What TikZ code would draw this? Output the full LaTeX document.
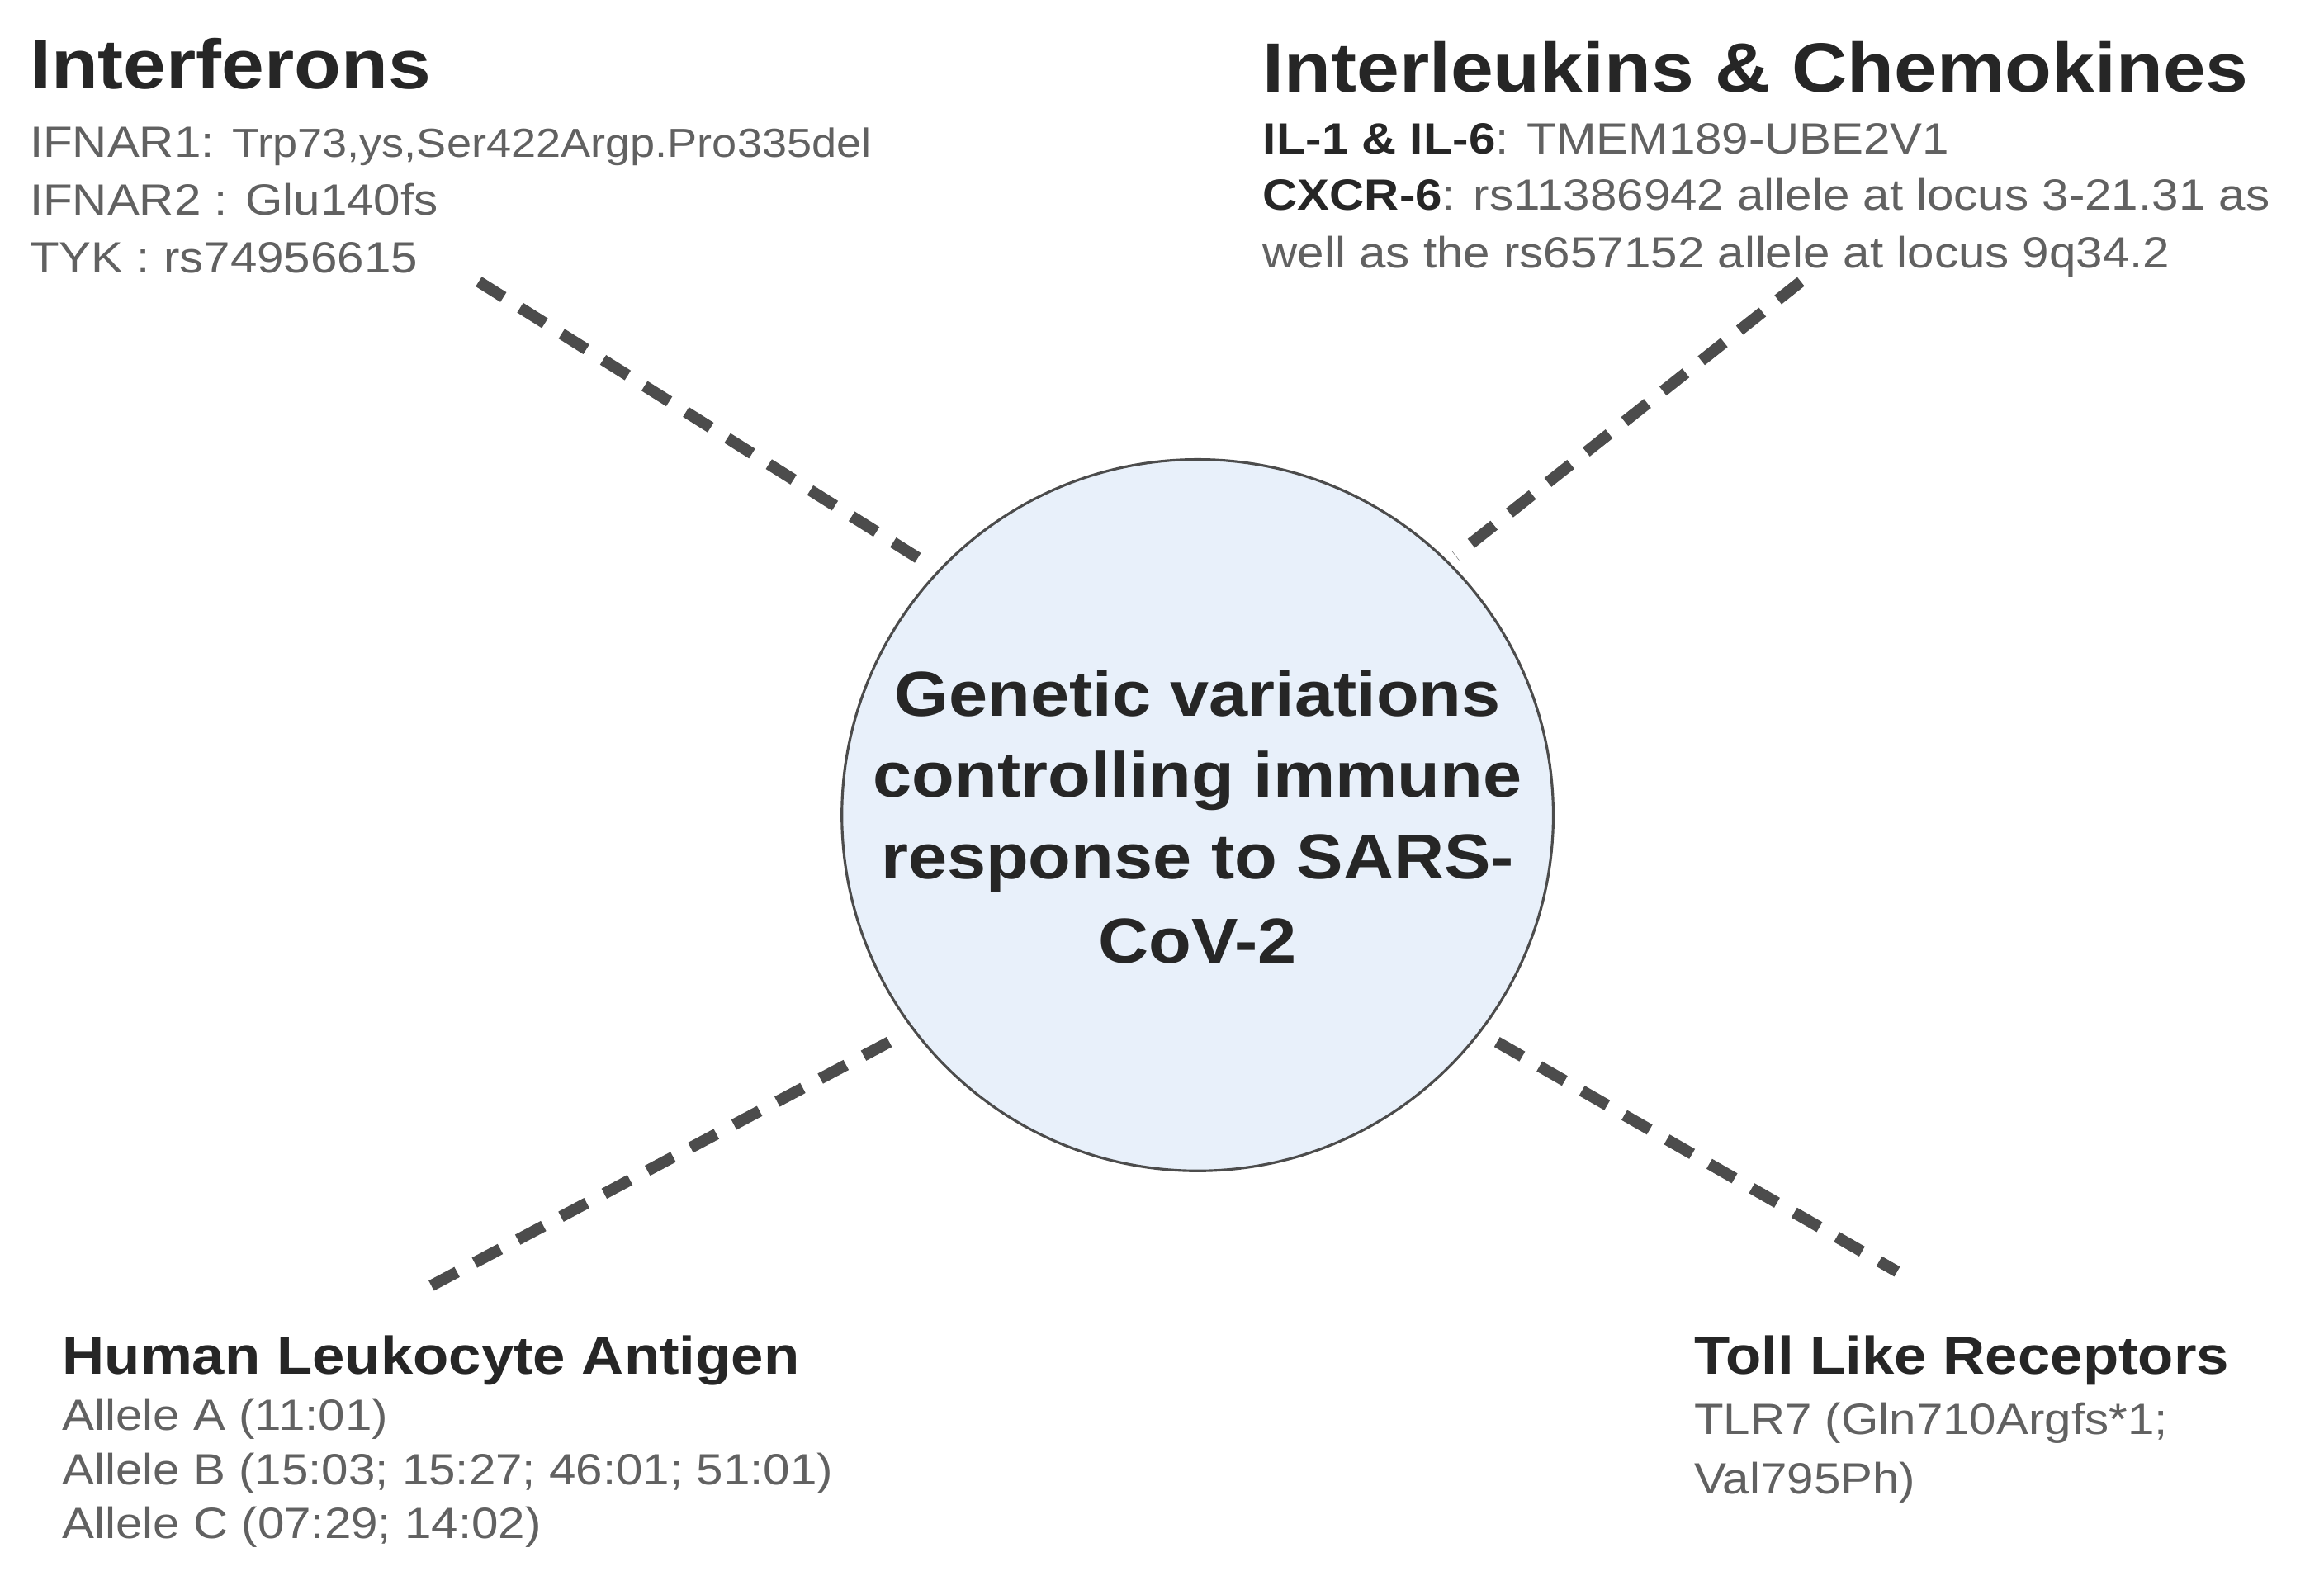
\documentclass[tikz,border=0pt]{standalone}
\usepackage{fontspec}
\setmainfont[FakeStretch=1.1]{Liberation Sans}
\newcommand{\smtxt}{\fontsize{39}{44}\selectfont}
\begin{document}
\begin{tikzpicture}[x=0.05cm,y=-0.05cm,
  ttl/.style={anchor=base west,inner sep=0,text=black!85,font=\fontsize{67}{72}\selectfont\bfseries},
  sub/.style={anchor=base west,inner sep=0,text=black!85,font=\fontsize{51}{56}\selectfont\bfseries},
  txt/.style={anchor=base west,inner sep=0,text=black!62,font=\fontsize{42}{48}\selectfont},
  con/.style={line width=11pt,draw=black!70,dash pattern=on 28pt off 19pt},
  ctr/.style={anchor=base,inner sep=0,text=black!85,font=\fontsize{61}{66}\selectfont\bfseries}]
\useasboundingbox (0,0) rectangle (1568,1063);
\node[circle,draw=black!70,line width=2.5pt,fill={rgb,255:red,232;green,240;blue,250},minimum size=480*0.05cm,inner sep=0] (c) at (808,550) {};
\node[ctr] (c1) at (808,483) {Genetic variations};
\node[ctr] (c2) at (808,538) {controlling immune};
\node[ctr] (c3) at (808,593) {response to SARS-};
\node[ctr] (c4) at (808,650) {CoV-2};
\node[ttl] (i0) at (20,60) {Interferons};
\node[txt] (i1) at (20,106) {IFNAR1: {\smtxt Trp73,ys,Ser422Argp.Pro335del}};
\node[txt] (i2) at (20,145) {IFNAR2 : Glu140fs};
\node[txt] (i3) at (20,184) {TYK : rs74956615};
\node[ttl] (l0) at (852,62) {Interleukins \& Chemokines};
\node[txt] (l1) at (852,104) {{\bfseries\color{black!85}IL-1 \& IL-6}: TMEM189-UBE2V1};
\node[txt] (l2) at (852,142) {{\bfseries\color{black!85}CXCR-6}: rs11386942 allele at locus 3-21.31 as};
\node[txt] (l3) at (852,181) {well as the rs657152 allele at locus 9q34.2};
\node[sub] (h0) at (42,927) {Human Leukocyte Antigen};
\node[txt] (h1) at (42,965) {Allele A (11:01)};
\node[txt] (h2) at (42,1002) {Allele B (15:03; 15:27; 46:01; 51:01)};
\node[txt] (h3) at (42,1038) {Allele C (07:29; 14:02)};
\node[sub] (t0) at (1143,927) {Toll Like Receptors};
\node[txt] (t1) at (1143,968) {TLR7 (Gln710Argfs*1;};
\node[txt] (t2) at (1143,1008) {Val795Ph)};
\coordinate (a1) at (323,190); \coordinate (a2) at (625,380);
\coordinate (b1) at (1215,190); \coordinate (b2) at (982,375);
\coordinate (d1) at (600,703); \coordinate (d2) at (290,868);
\coordinate (e1) at (1010,703); \coordinate (e2) at (1280,858);
\draw[con] (a1) -- (a2);
\draw[con] (b1) -- (b2);
\draw[con] (d1) -- (d2);
\draw[con] (e1) -- (e2);
\end{tikzpicture}
\end{document}
